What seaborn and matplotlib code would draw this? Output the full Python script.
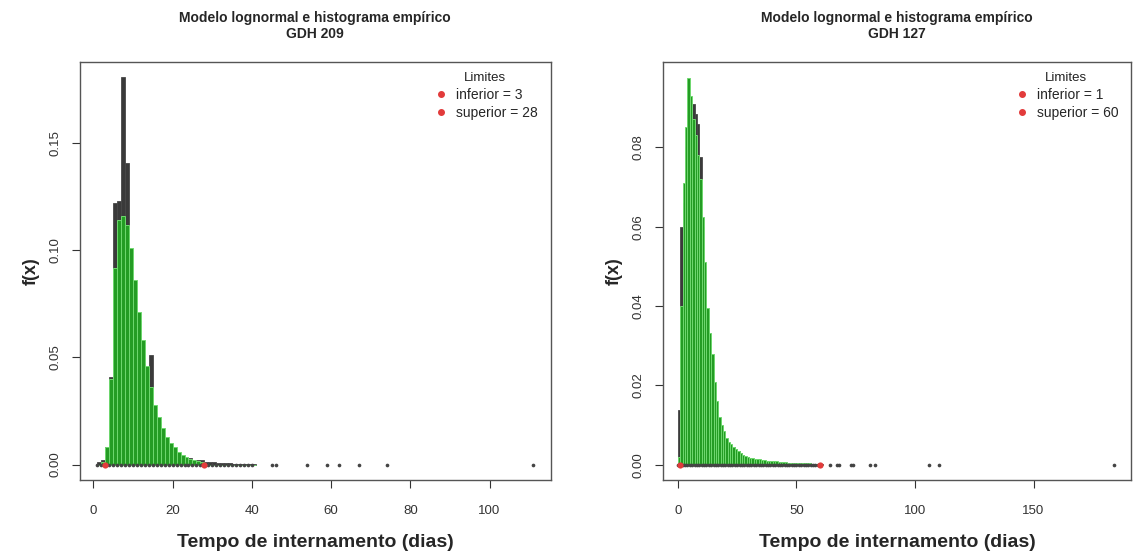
import numpy as np
import pandas as pd
import matplotlib
matplotlib.use("Agg")
import matplotlib.pyplot as plt
import seaborn as sns
from matplotlib.lines import Line2D

# ---------------- data: GDH 209 (left) ----------------
bins_209 = list(range(1, 41))  # left edges of 1-day bins
emp_209 = [0.001, 0.002, 0.008, 0.041, 0.122, 0.123, 0.181, 0.141, 0.072, 0.070,
           0.067, 0.047, 0.030, 0.051, 0.024, 0.020, 0.013, 0.009, 0.007, 0.006,
           0.004, 0.004, 0.003, 0.003, 0.002, 0.002, 0.002, 0.001, 0.001, 0.001,
           0.0008, 0.0008, 0.0006, 0.0006, 0.0005, 0.0005, 0.0004, 0.0004, 0.0003, 0.0003]
mod_209 = [0.000, 0.001, 0.008, 0.040, 0.092, 0.114, 0.116, 0.112, 0.101, 0.086,
           0.071, 0.058, 0.046, 0.036, 0.028, 0.022, 0.017, 0.013, 0.010, 0.008,
           0.006, 0.0045, 0.0035, 0.0027, 0.002, 0.0016, 0.0012, 0.0, 0.0, 0.0,
           0.0, 0.0, 0.0, 0.0, 0.0, 0.0, 0.0, 0.0, 0.0, 0.0]
obs_209 = list(range(1, 41)) + [45, 46, 54, 59, 62, 67, 74, 111]
lim_209 = [3, 28]

# ---------------- data: GDH 127 (right) ----------------
bins_127 = list(range(0, 61))
emp_127 = [0.0138, 0.060, 0.066, 0.080, 0.088, 0.090, 0.091, 0.0885, 0.0858, 0.0775,
           0.060, 0.050, 0.039, 0.032, 0.027, 0.020, 0.0155, 0.0118, 0.0098, 0.0083,
           0.0066, 0.0056, 0.0050, 0.0044, 0.0039, 0.0035, 0.0029, 0.0025, 0.0021, 0.0019,
           0.0017, 0.0016, 0.0015, 0.0014, 0.0013, 0.0012, 0.0011, 0.0010, 0.0010, 0.0009,
           0.0009, 0.0008, 0.0008, 0.0007, 0.0007, 0.0006, 0.0006, 0.0006, 0.0005, 0.0005,
           0.0005, 0.0004, 0.0004, 0.0004, 0.0004, 0.0003, 0.0003, 0.0003, 0.0003, 0.0003, 0.0002]
mod_127 = [0.002, 0.040, 0.071, 0.085, 0.0975, 0.093, 0.087, 0.083, 0.078, 0.072,
           0.0625, 0.051, 0.0396, 0.0333, 0.028, 0.021, 0.016, 0.012, 0.010, 0.0085,
           0.0068, 0.0058, 0.0052, 0.0045, 0.0040, 0.0036, 0.0030, 0.0026, 0.0022, 0.0020,
           0.0018, 0.0017, 0.0016, 0.0015, 0.0014, 0.0013, 0.0012, 0.0011, 0.0010, 0.0010,
           0.0009, 0.0009, 0.0008, 0.0008, 0.0007, 0.0007, 0.0006, 0.0006, 0.0006, 0.0005,
           0.0005, 0.0005, 0.0004, 0.0004, 0.0004, 0.0004, 0.0003, 0.0003, 0.0003, 0.0003, 0.0]
obs_127 = list(range(0, 61)) + [64, 67, 68, 73, 74, 81, 83, 106, 110, 184]
lim_127 = [1, 60]

titles = ["Modelo lognormal e histograma empírico\nGDH 209",
          "Modelo lognormal e histograma empírico\nGDH 127"]
xlabel = "Tempo de internamento (dias)"
ylabel = "f(x)"
xticks = [[0, 20, 40, 60, 80, 100], [0, 50, 100, 150]]
yticks = [[0.00, 0.05, 0.10, 0.15], [0.00, 0.02, 0.04, 0.06, 0.08]]
xlims = [(-3.4, 115.4), (-6.3, 191.3)]
ylims = [(-0.0072, 0.188), (-0.0038, 0.1015)]
legend_labels = [["inferior = 3", "superior = 28"], ["inferior = 1", "superior = 60"]]

# ---------------- plotting ----------------
sns.set_style("white")
plt.rcParams['font.family'] = ['Liberation Sans', 'DejaVu Sans']

fig = plt.figure(figsize=(11.34, 5.56), dpi=100)
axes = [fig.add_axes([0.0705, 0.1367, 0.415, 0.752]),
        fig.add_axes([0.5847, 0.1367, 0.413, 0.752])]

panels = [(bins_209, emp_209, mod_209, obs_209, lim_209),
          (bins_127, emp_127, mod_127, obs_127, lim_127)]

for i, (ax, (b, emp, mod, obs, lim)) in enumerate(zip(axes, panels)):
    lo, hi = b[0], b[-1] + 1
    xs = [v + 0.5 for v in b]
    sns.histplot(x=xs, weights=emp, binwidth=1, binrange=(lo, hi), stat="count",
                 color="#3a3a3a", edgecolor="#484848", linewidth=0.6, alpha=1.0, ax=ax)
    sns.histplot(x=xs, weights=mod, binwidth=1, binrange=(lo, hi), stat="count",
                 color="#249c24", edgecolor="#6fd86f", linewidth=0.7, alpha=1.0, ax=ax)
    sns.scatterplot(x=obs, y=[0] * len(obs), color="#444444", s=7, linewidth=0,
                    ax=ax, zorder=5)
    sns.scatterplot(x=lim, y=[0] * len(lim), color="#e23b3b", s=20, linewidth=0,
                    ax=ax, zorder=6)

    ax.set_xlim(*xlims[i])
    ax.set_ylim(*ylims[i])
    ax.set_xticks(xticks[i])
    ax.set_xticklabels([str(v) for v in xticks[i]])
    ax.set_yticks(yticks[i])
    ax.set_yticklabels(["%.2f" % v for v in yticks[i]], rotation=90, va="center")
    ax.tick_params(axis="both", which="both", direction="out", length=6, width=0.8,
                   colors="#333333", labelsize=9.5, bottom=True, left=True)
    ax.tick_params(axis="x", pad=12)
    ax.tick_params(axis="y", pad=7)
    for sp in ax.spines.values():
        sp.set_visible(True)
        sp.set_color("#555555")
        sp.set_linewidth(1.0)

    ax.set_title(titles[i], fontsize=10, fontweight="bold", pad=17, linespacing=1.25)
    ax.set_xlabel(xlabel, fontsize=14, fontweight="bold")
    ax.set_ylabel(ylabel, fontsize=13, fontweight="bold")
    ax.xaxis.set_label_coords(0.5, -0.128)
    ax.yaxis.set_label_coords(-0.085, 0.5)

    handles = [Line2D([], [], linestyle="none", marker="o", markersize=4,
                      markerfacecolor="#e23b3b", markeredgecolor="#e23b3b")
               for _ in range(2)]
    leg = ax.legend(handles, legend_labels[i], title="Limites", loc="upper right",
                    bbox_to_anchor=(0.985, 0.99), borderaxespad=0.0,
                    frameon=False, fontsize=10, title_fontsize=9.5,
                    handletextpad=0.5, labelspacing=0.3, handlelength=1.2)
    leg.get_title().set_color("#222222")

fig.savefig("out.png", dpi=100, facecolor="white")
